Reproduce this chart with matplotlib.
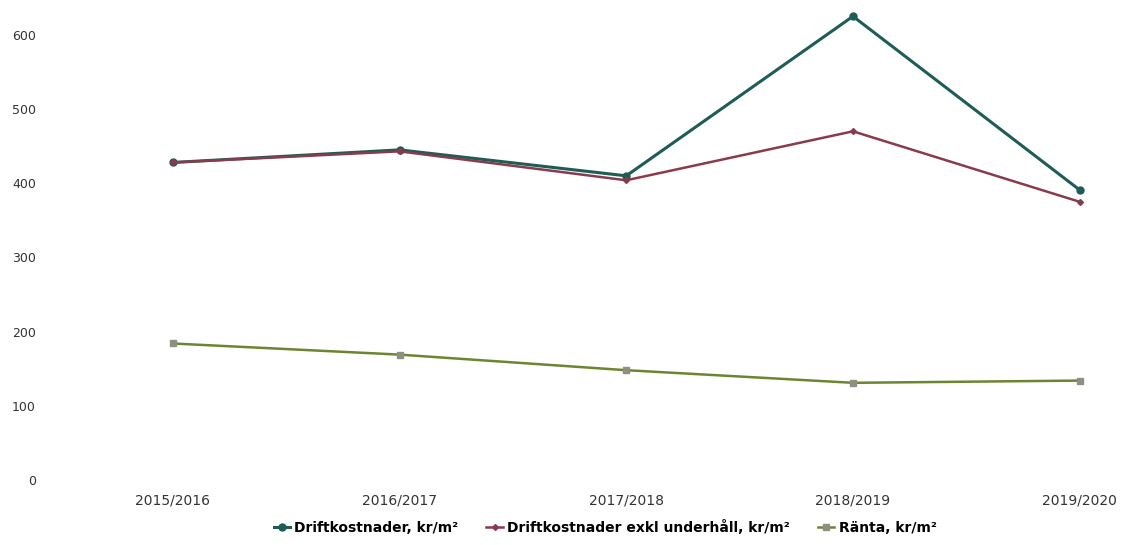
import numpy as np
import matplotlib.pyplot as plt

# ============================================================
#  Donnees
# ============================================================
years = ['2015/2016', '2016/2017', '2017/2018', '2018/2019', '2019/2020']
drift = [428, 445, 410, 625, 391]
drift_exkl = [428, 443, 404, 470, 375]
ranta = [184, 169, 148, 131, 134]
yticks = [0, 100, 200, 300, 400, 500, 600]

# ============================================================
#  Figure
# ============================================================
W, H = 1123, 545
fig = plt.figure(figsize=(W / 100, H / 100), dpi=100)
ax = fig.add_axes([59.5 / W, 65 / H, (1125 - 59.5) / W, (H - 65) / H])

x = np.arange(len(years))
ax.plot(x, drift, color='#1e5c57', linewidth=2.2, marker='o', markersize=5,
        label='Driftkostnader, kr/m²')
ax.plot(x, drift_exkl, color='#8a3b4b', linewidth=1.8, marker='D', markersize=3,
        label='Driftkostnader exkl underhåll, kr/m²')
ax.plot(x, ranta, color='#6b8530', linewidth=1.8, marker='s', markersize=5,
        markerfacecolor='#8f8f80', markeredgecolor='#8f8f80',
        label='Ränta, kr/m²')

ax.set_xlim(-0.5, 4.2)
ax.set_ylim(0, 647)
ax.set_xticks(x)
ax.set_xticklabels(years, fontsize=10, color='#333333')
ax.set_yticks(yticks)
ax.set_yticklabels([str(v) for v in yticks], fontsize=9, color='#333333')
ax.tick_params(axis='both', length=0)
ax.tick_params(axis='y', pad=17)
ax.tick_params(axis='x', pad=10)
for s in ax.spines.values():
    s.set_visible(False)

fig.legend(loc='center', bbox_to_anchor=(605 / W, 1 - 527 / H), ncol=3,
           frameon=False, handlelength=1.2, handletextpad=0.3,
           columnspacing=2.0, prop={'weight': 'bold', 'size': 10})

fig.savefig('out.png', dpi=100)
